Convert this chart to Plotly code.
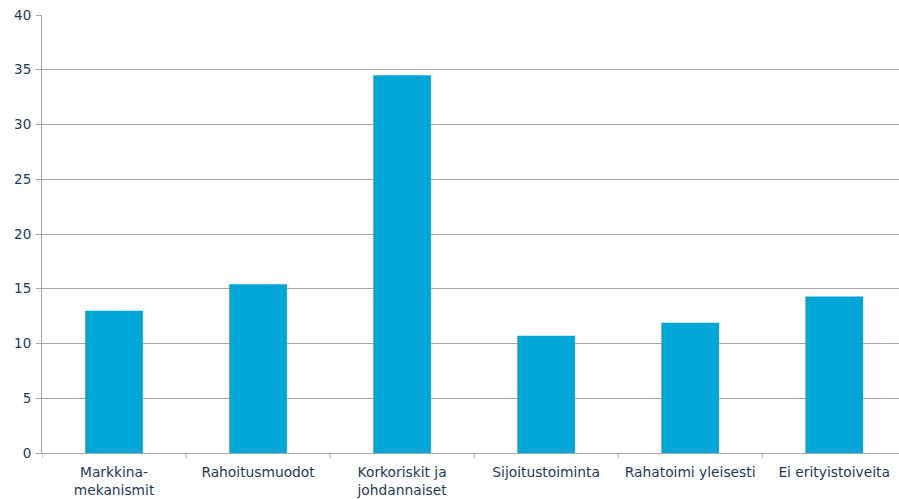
import plotly.graph_objects as go

categories = ["Markkina-<br>mekanismit", "Rahoitusmuodot", "Korkoriskit ja<br>johdannaiset",
              "Sijoitustoiminta", "Rahatoimi yleisesti", "Ei erityistoiveita"]
values = [13.0, 15.4, 34.5, 10.7, 11.9, 14.3]
y_ticks = [0, 5, 10, 15, 20, 25, 30, 35, 40]

text_color = "#1f3a56"
grid_color = "#a6a6a6"

fig = go.Figure(go.Bar(
    x=list(range(len(categories))), y=values,
    marker=dict(color="#00a6d6", line=dict(width=0)),
    width=0.4,
))

fig.update_layout(
    width=899, height=499,
    margin=dict(l=42, r=0, t=15, b=46),
    paper_bgcolor="white", plot_bgcolor="white",
    font=dict(family="DejaVu Sans, Verdana, sans-serif", size=13, color=text_color),
    showlegend=False,
    xaxis=dict(
        tickmode="array", tickvals=list(range(len(categories))), ticktext=categories,
        range=[-0.5, 5.45], showgrid=False, showline=True, linecolor=grid_color,
        ticks="", tickfont=dict(size=13.8), zeroline=False, ticklabelstandoff=6,
    ),
    yaxis=dict(
        range=[0, 40], tickvals=y_ticks, showgrid=True, gridcolor=grid_color,
        gridwidth=1, showline=True, linecolor=grid_color, ticks="outside",
        ticklen=5, tickcolor=grid_color, zeroline=False, ticklabelstandoff=2,
        tickfont=dict(size=13.5),
    ),
)

# boundary tick marks on the x axis
for i in range(len(categories) + 1):
    fig.add_shape(type="line", xref="x", yref="paper", x0=i - 0.5, x1=i - 0.5,
                  y0=0, y1=-0.012, line=dict(color=grid_color, width=1))

fig.write_html("out.html")
